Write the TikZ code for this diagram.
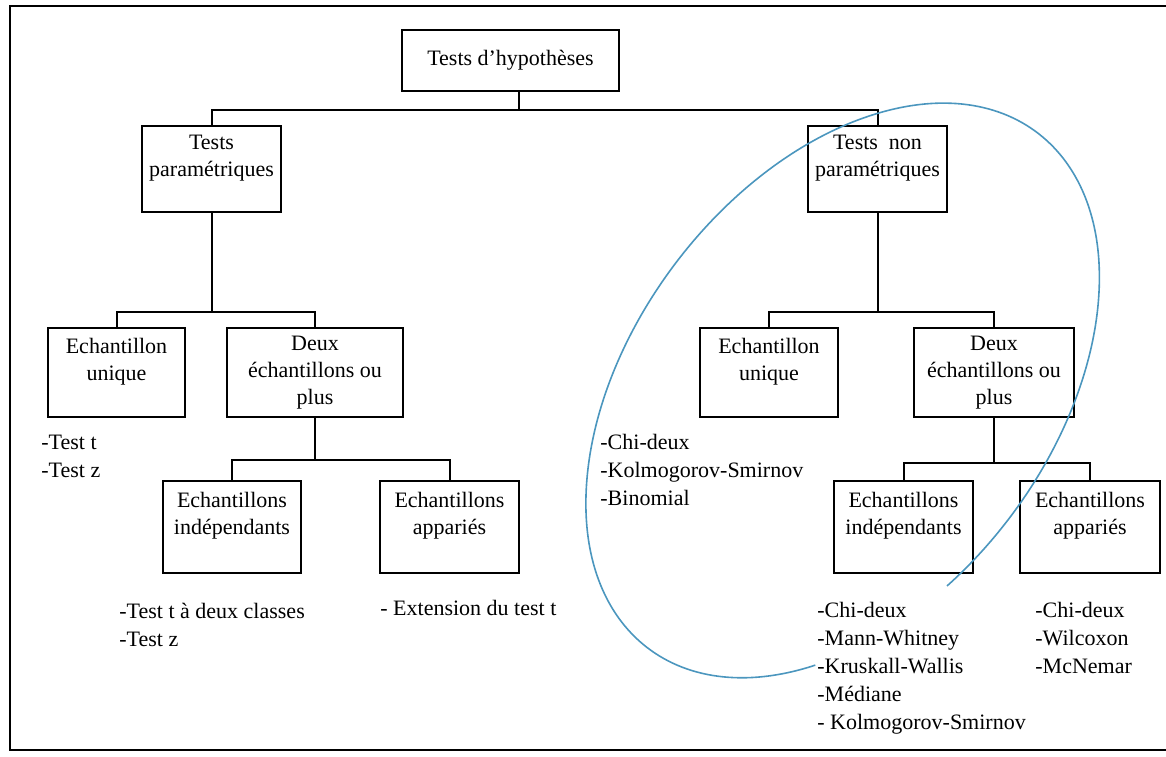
\documentclass[tikz,border=0pt]{standalone}
\usepackage{fontspec}
\setmainfont{Liberation Serif}
\usepackage{tikz}
\usetikzlibrary{arrows.meta, positioning}
\definecolor{ovalblue}{RGB}{75,150,190}

\begin{document}
\begin{tikzpicture}[x=0.5pt, y=-0.5pt,
  box/.style 2 args={draw, line width=1pt, align=center, inner sep=1pt,
    minimum width=#1*0.5pt, minimum height=#2*0.5pt,
    font=\fontsize{11}{13.5}\selectfont},
  liste/.style={align=left, anchor=north west, inner sep=0pt,
    font=\fontsize{11}{14}\selectfont},
  branch/.style={line width=1pt}]
  \clip (0,0) rectangle (1166,756);
  \draw[line width=1pt] (10,6) rectangle (1180,750);

  \node[box={217}{61}] (hyp) at (510.5,60.5) {Tests d’hypothèses};
  \node[box={139}{86}] (param) at (211.5,169) {Tests\\paramétriques\\\mbox{}};
  \node[box={139}{86}] (nonparam) at (877.5,169) {Tests\enspace non\\paramétriques\\\mbox{}};

  \node[box={137}{89}] (uniqL) at (116.5,372.5) {Echantillon\\unique\\\mbox{}};
  \node[box={176}{89}] (deuxL) at (315,372.5) {Deux\\échantillons ou\\plus};
  \node[box={138}{89}] (uniqR) at (769,372.5) {Echantillon\\unique\\\mbox{}};
  \node[box={160}{89}] (deuxR) at (994,372.5) {Deux\\échantillons ou\\plus};

  \node[box={138}{92}] (indepL) at (232,527) {Echantillons\\indépendants\\\mbox{}};
  \node[box={139}{92}] (appL) at (449.5,527) {Echantillons\\appariés\\\mbox{}};
  \node[box={139}{92}] (indepR) at (903.5,527) {Echantillons\\indépendants\\\mbox{}};
  \node[box={140}{92}] (appR) at (1090,527) {Echantillons\\appariés\\\mbox{}};

  \draw[branch] ([xshift=4pt]hyp.south) -- ++(0,18) coordinate (fA) -| (param.north);
  \draw[branch] (fA) -| (nonparam.north);
  \draw[branch] (param.south) -- ++(0,99) coordinate (fB) -| (uniqL.north);
  \draw[branch] (fB) -| (deuxL.north);
  \draw[branch] (nonparam.south) -- ++(0,99) coordinate (fC) -| (uniqR.north);
  \draw[branch] (fC) -| (deuxR.north);
  \draw[branch] (deuxL.south) -- ++(0,42) coordinate (fD) -| (indepL.north);
  \draw[branch] (fD) -| (appL.north);
  \draw[branch] (deuxR.south) -- ++(0,45) coordinate (fE) -| (indepR.north);
  \draw[branch] (fE) -| (appR.north);

  \node[liste] (listeA) at (41,435) {-Test t\\-Test z};
  \node[liste] (listeB) at (119,603) {-Test t à deux classes\\-Test z};
  \node[liste] (listeC) at (380,600) {- Extension du test t};
  \node[liste] (listeD) at (600,434) {-Chi-deux\\-Kolmogorov-Smirnov\\-Binomial};
  \node[liste] (listeE) at (817,602) {-Chi-deux\\-Mann-Whitney\\-Kruskall-Wallis\\-Médiane\\- Kolmogorov-Smirnov};
  \node[liste] (listeF) at (1035,602) {-Chi-deux\\-Wilcoxon\\-McNemar};

  \coordinate (oval) at (842.5,390.5);
  \draw[ovalblue, line width=0.8pt, rotate around={53:(oval)}]
    (oval) ++(136.9:323 and 210)
    arc[start angle=136.9, end angle=466.8, x radius=323, y radius=210];
\end{tikzpicture}
\end{document}
